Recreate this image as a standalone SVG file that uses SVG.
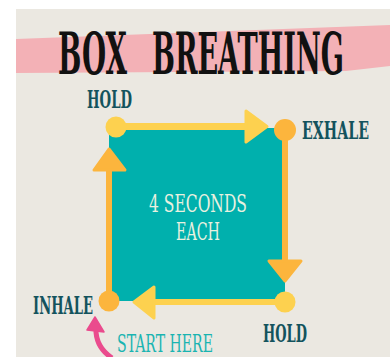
<svg xmlns="http://www.w3.org/2000/svg" width="390" height="357" viewBox="0 0 390 357">
<style>
.lbl{font-family:"DejaVu Serif Condensed","Liberation Serif",serif;font-weight:bold;fill:#13535d;font-size:25px}
.inner{font-family:"DejaVu Serif Condensed","Liberation Serif",serif;font-size:25px;fill:#e9f1e0}
.ttl{font-family:"DejaVu Serif Condensed","Liberation Serif",serif;font-weight:bold;font-size:57px;fill:#111}
.yl{stroke:#fdd14f;fill:none}
.or{stroke:#fcb53d;fill:none}
.yf{fill:#fdd14f;stroke:#fdd14f;stroke-width:3;stroke-linejoin:round}
.of{fill:#fcb53d;stroke:#fcb53d;stroke-width:3;stroke-linejoin:round}
</style>
<rect width="390" height="357" fill="#ffffff"/>
<rect x="16" y="9" width="374" height="348" fill="#ebe8e1"/>
<g id="banner">
<polygon points="16,39 390,25 390,66 346,71 16,73" fill="#f3b1b6"/>
<g transform="scale(0.6,1)">
<text class="ttl" x="96.7" y="74" textLength="115" lengthAdjust="spacingAndGlyphs">BOX</text>
<text class="ttl" x="253.3" y="74" textLength="320" lengthAdjust="spacingAndGlyphs">BREATHING</text>
</g>
</g>
<g id="box">
<rect x="109" y="128" width="176" height="173" fill="#00b0ad"/>
<text class="inner" x="149" y="212" textLength="98" lengthAdjust="spacingAndGlyphs">4 SECONDS</text>
<text class="inner" x="176" y="240" textLength="44" lengthAdjust="spacingAndGlyphs">EACH</text>
</g>
<g id="connectors">
<line class="yl" x1="116" y1="126.5" x2="246" y2="126.5" stroke-width="7"/>
<polygon class="yf" points="246,111 267,126.5 246,142"/>
<line class="or" x1="285" y1="130" x2="285" y2="261" stroke-width="6"/>
<polygon class="of" points="269,261 301,261 285,281"/>
<line class="yl" x1="285" y1="302" x2="154" y2="302" stroke-width="6"/>
<polygon class="yf" points="154,287 134,302 154,318"/>
<line class="or" x1="109" y1="301" x2="109" y2="170" stroke-width="6"/>
<polygon class="of" points="94,170 109,149 125,170"/>
</g>
<g id="hold-top">
<circle cx="116" cy="127" r="10.5" fill="#fdd14f"/>
<text class="lbl" x="87" y="108" textLength="45" lengthAdjust="spacingAndGlyphs">HOLD</text>
</g>
<g id="exhale">
<circle cx="285" cy="130" r="11" fill="#fcb53d"/>
<g transform="translate(302,139) scale(0.65,1)">
<text class="lbl" x="0" y="0" textLength="103" lengthAdjust="spacingAndGlyphs">EXHALE</text>
</g>
</g>
<g id="hold-bottom">
<circle cx="285" cy="302" r="10.5" fill="#fdd14f"/>
<text class="lbl" x="263" y="342" textLength="44" lengthAdjust="spacingAndGlyphs">HOLD</text>
</g>
<g id="inhale">
<circle cx="109" cy="301" r="10.5" fill="#fcb53d"/>
<text class="lbl" x="33" y="314" textLength="60" lengthAdjust="spacingAndGlyphs">INHALE</text>
</g>
<g id="start">
<path d="M96,326 C95,340 100,350 112,358" fill="none" stroke="#ea4b8d" stroke-width="5"/>
<polygon points="95,317 87,330 104,332" fill="#ea4b8d" stroke="#ea4b8d" stroke-width="1.5" stroke-linejoin="round"/>
<text x="117" y="352" font-family="DejaVu Serif Condensed, Liberation Serif, serif" font-size="24" fill="#1ab4b1" textLength="96" lengthAdjust="spacingAndGlyphs">START HERE</text>
</g>
</svg>
